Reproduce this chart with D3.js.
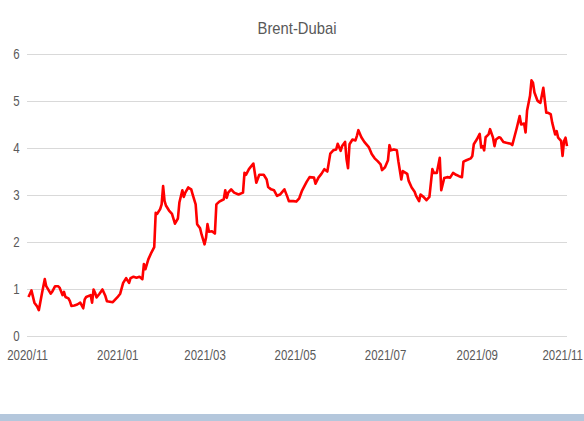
<!DOCTYPE html>
<meta charset="utf-8">
<style>
body {
    margin: 0;
    background: white;
    font-family: "Liberation Sans", Arial, sans-serif;
}

.title {
    fill: #595959;
    font-size: 17px;
}

.axis text {
    fill: #595959;
    font-size: 14px;
    font-family: "Liberation Sans", Arial, sans-serif;
}

.axis path {
    display: none;
}

.y.axis line {
    stroke: #d9d9d9;
    stroke-width: 1.3px;
    shape-rendering: crispEdges;
}

.line {
    fill: none;
    stroke: #ff0000;
    stroke-width: 2.6px;
    stroke-linejoin: round;
}
</style>

<body>
    <script src="https://d3js.org/d3.v7.min.js"></script>
    <script>
    // daily Brent-Dubai spread
    var dates = [
        "2020-11-02", "2020-11-04", "2020-11-06", "2020-11-08", "2020-11-09", "2020-11-11", "2020-11-13", "2020-11-14",
        "2020-11-17", "2020-11-18", "2020-11-20", "2020-11-22", "2020-11-23", "2020-11-25", "2020-11-26", "2020-11-27",
        "2020-11-29", "2020-11-30", "2020-12-01", "2020-12-03", "2020-12-05", "2020-12-07", "2020-12-09", "2020-12-10",
        "2020-12-11", "2020-12-14", "2020-12-15", "2020-12-16", "2020-12-17", "2020-12-18", "2020-12-20", "2020-12-22",
        "2020-12-24", "2020-12-25", "2020-12-27", "2020-12-29", "2021-01-01", "2021-01-03", "2021-01-05", "2021-01-07",
        "2021-01-09", "2021-01-10", "2021-01-12", "2021-01-14", "2021-01-16", "2021-01-18", "2021-01-19", "2021-01-20",
        "2021-01-22", "2021-01-24", "2021-01-26", "2021-01-27", "2021-01-28", "2021-01-30", "2021-01-31", "2021-02-01",
        "2021-02-02", "2021-02-03", "2021-02-05", "2021-02-07", "2021-02-09", "2021-02-11", "2021-02-12", "2021-02-14",
        "2021-02-15", "2021-02-16", "2021-02-18", "2021-02-20", "2021-02-21", "2021-02-23", "2021-02-24", "2021-02-26",
        "2021-02-27", "2021-03-01", "2021-03-02", "2021-03-03", "2021-03-04", "2021-03-06", "2021-03-08", "2021-03-09",
        "2021-03-11", "2021-03-14", "2021-03-15", "2021-03-16", "2021-03-17", "2021-03-19", "2021-03-21", "2021-03-24",
        "2021-03-27", "2021-03-28", "2021-03-29", "2021-03-31", "2021-04-03", "2021-04-05", "2021-04-07", "2021-04-10",
        "2021-04-12", "2021-04-13", "2021-04-15", "2021-04-17", "2021-04-19", "2021-04-21", "2021-04-24", "2021-04-26",
        "2021-04-27", "2021-04-30", "2021-05-02", "2021-05-04", "2021-05-06", "2021-05-09", "2021-05-11", "2021-05-14",
        "2021-05-15", "2021-05-17", "2021-05-19", "2021-05-21", "2021-05-23", "2021-05-25", "2021-05-27", "2021-05-29",
        "2021-05-30", "2021-06-01", "2021-06-02", "2021-06-04", "2021-06-05", "2021-06-06", "2021-06-07", "2021-06-09",
        "2021-06-11", "2021-06-12", "2021-06-13", "2021-06-15", "2021-06-17", "2021-06-20", "2021-06-22", "2021-06-24",
        "2021-06-26", "2021-06-28", "2021-06-29", "2021-07-01", "2021-07-03", "2021-07-04", "2021-07-05", "2021-07-07",
        "2021-07-09", "2021-07-10", "2021-07-12", "2021-07-13", "2021-07-16", "2021-07-17", "2021-07-19", "2021-07-21",
        "2021-07-22", "2021-07-24", "2021-07-25", "2021-07-27", "2021-07-29", "2021-07-31", "2021-08-02", "2021-08-03",
        "2021-08-05", "2021-08-07", "2021-08-08", "2021-08-10", "2021-08-12", "2021-08-14", "2021-08-16", "2021-08-18",
        "2021-08-20", "2021-08-22", "2021-08-23", "2021-08-25", "2021-08-28", "2021-08-29", "2021-08-30", "2021-09-01",
        "2021-09-03", "2021-09-04", "2021-09-05", "2021-09-06", "2021-09-07", "2021-09-09", "2021-09-10", "2021-09-12",
        "2021-09-13", "2021-09-14", "2021-09-16", "2021-09-17", "2021-09-19", "2021-09-21", "2021-09-24", "2021-09-25",
        "2021-09-26", "2021-09-28", "2021-09-30", "2021-10-01", "2021-10-03", "2021-10-04", "2021-10-05", "2021-10-07",
        "2021-10-08", "2021-10-09", "2021-10-10", "2021-10-12", "2021-10-13", "2021-10-14", "2021-10-16", "2021-10-18",
        "2021-10-19", "2021-10-21", "2021-10-22", "2021-10-24", "2021-10-25", "2021-10-26", "2021-10-28", "2021-10-29",
        "2021-10-30", "2021-10-31", "2021-11-01"
    ];

    var spread = [
        0.83, 0.97, 0.71, 0.62, 0.55, 0.89, 1.21, 1.06,
        0.90, 0.94, 1.06, 1.06, 1.03, 0.87, 0.94, 0.83,
        0.80, 0.74, 0.64, 0.65, 0.67, 0.71, 0.59, 0.78,
        0.83, 0.87, 0.71, 0.99, 0.92, 0.82, 0.90, 0.99,
        0.85, 0.74, 0.73, 0.72, 0.82, 0.90, 1.13, 1.23,
        1.13, 1.23, 1.26, 1.24, 1.26, 1.21, 1.53, 1.42,
        1.63, 1.77, 1.89, 2.62, 2.60, 2.70, 2.80, 3.19,
        2.87, 2.77, 2.67, 2.60, 2.39, 2.50, 2.84, 3.10,
        2.96, 3.05, 3.16, 3.12, 3.01, 2.80, 2.38, 2.29,
        2.16, 1.95, 2.09, 2.38, 2.22, 2.23, 2.18, 2.80,
        2.86, 2.91, 3.10, 2.94, 3.05, 3.12, 3.05, 3.01,
        3.05, 3.47, 3.43, 3.55, 3.67, 3.26, 3.43, 3.43,
        3.33, 3.17, 3.12, 3.10, 2.98, 3.01, 3.12, 2.96,
        2.87, 2.87, 2.86, 2.93, 3.10, 3.28, 3.38, 3.37,
        3.24, 3.37, 3.45, 3.55, 3.50, 3.88, 3.95, 3.97,
        4.09, 3.94, 4.04, 4.13, 3.76, 3.57, 4.08, 4.18,
        4.16, 4.26, 4.38, 4.23, 4.13, 4.02, 3.87, 3.78,
        3.72, 3.65, 3.53, 3.59, 3.74, 4.06, 3.95, 3.97,
        3.95, 3.72, 3.33, 3.51, 3.45, 3.30, 3.16, 3.07,
        2.98, 2.87, 3.01, 2.96, 2.89, 2.96, 3.55, 3.47,
        3.47, 3.79, 3.10, 3.36, 3.38, 3.37, 3.47, 3.43,
        3.40, 3.38, 3.71, 3.74, 3.78, 3.83, 4.08, 4.18,
        4.30, 4.01, 4.04, 3.95, 4.23, 4.29, 4.40, 4.22,
        4.04, 4.18, 4.23, 4.22, 4.13, 4.11, 4.09, 4.06,
        4.18, 4.42, 4.68, 4.50, 4.52, 4.33, 4.79, 5.11,
        5.44, 5.39, 5.18, 5.01, 4.98, 4.96, 5.28, 4.75,
        4.75, 4.72, 4.54, 4.29, 4.36, 4.22, 4.15, 3.83,
        4.15, 4.22, 4.04
    ];

    var yTicks = [0, 1, 2, 3, 4, 5, 6];
    var xStart = "2020-11-01", xEnd = "2021-11-01";

    var parseDate = d3.timeParse("%Y-%m-%d");
    var data = dates.map(function(d, i) { return { date: parseDate(d), value: spread[i] }; });

    var W = 584, H = 421;
    var margin = { top: 54, right: 17, bottom: 85, left: 27 },
        width = W - margin.left - margin.right,
        height = H - margin.top - margin.bottom;

    // narrow look of the original font
    var sx = 0.82;

    var svg = d3.select("body")
        .append("svg")
        .attr("width", W)
        .attr("height", H);

    // bottom band
    svg.append("rect")
        .attr("x", 0)
        .attr("y", 414)
        .attr("width", W)
        .attr("height", 7)
        .attr("fill", "#b4c7dc");

    svg.append("text")
        .attr("class", "title")
        .attr("text-anchor", "middle")
        .attr("transform", "translate(297,34) scale(0.87,1)")
        .text("Brent-Dubai");

    var g = svg.append("g")
        .attr("transform", "translate(" + margin.left + "," + margin.top + ")");

    var x = d3.scaleTime()
        .domain([parseDate(xStart), parseDate(xEnd)])
        .range([0, width]);

    var y = d3.scaleLinear()
        .domain([0, 6])
        .range([height, 0]);

    // y axis with gridlines
    g.append("g")
        .attr("class", "y axis")
        .call(d3.axisLeft(y)
            .tickValues(yTicks)
            .tickSize(-width)
            .tickPadding(9)
            .tickFormat(d3.format("d")));

    // x axis, labels only
    g.append("g")
        .attr("class", "x axis")
        .attr("transform", "translate(0," + height + ")")
        .call(d3.axisBottom(x)
            .ticks(d3.timeMonth.every(2))
            .tickSize(0)
            .tickPadding(14)
            .tickFormat(d3.timeFormat("%Y/%m")));

    g.selectAll(".axis text").attr("transform", "scale(" + sx + ",1)");

    // keep the last date label inside the page
    g.selectAll(".x.axis .tick").each(function() {
        var t = d3.select(this).select("text");
        var box = t.node().getBoundingClientRect();
        var over = box.right - (W - 1);
        if (over > 0) t.attr("x", -over / sx);
    });

    var line = d3.line()
        .x(function(d) { return x(d.date); })
        .y(function(d) { return y(d.value); });

    g.append("path")
        .datum(data)
        .attr("class", "line")
        .attr("d", line);
    </script>
</body>
